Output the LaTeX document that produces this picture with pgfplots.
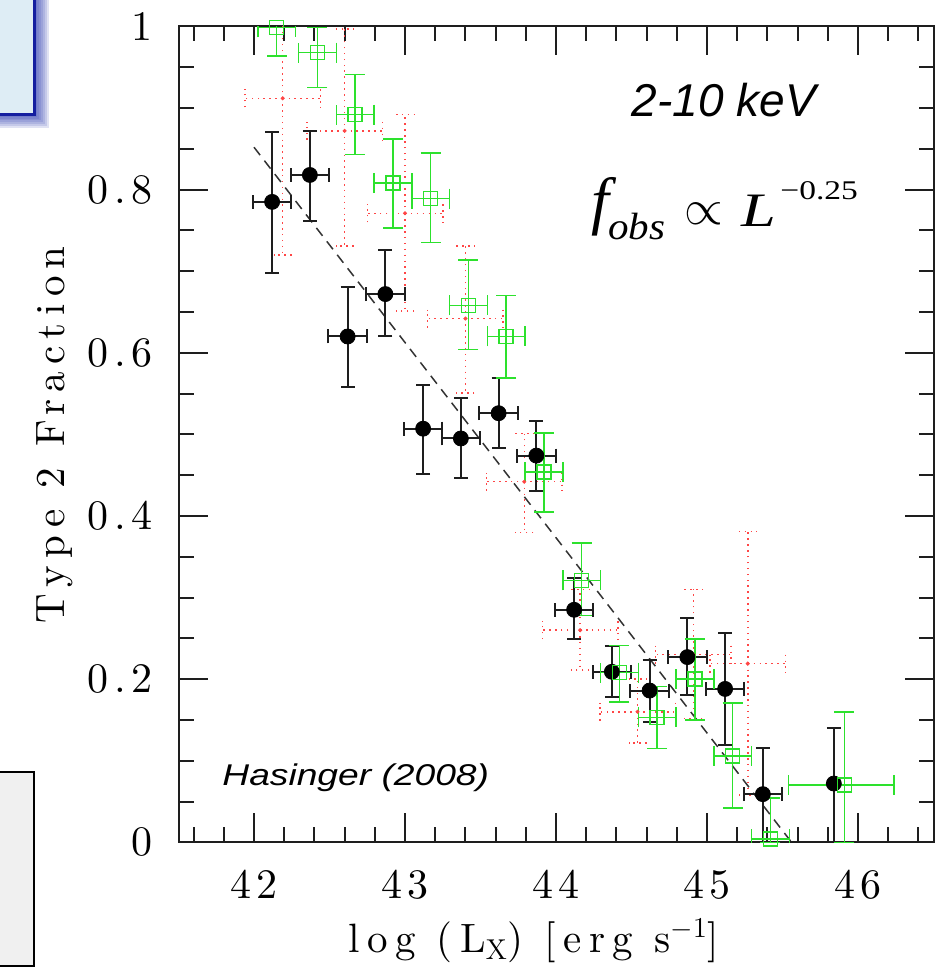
\documentclass[border=0pt]{standalone}
\usepackage{fontspec}
\usepackage{pgfplots}
\usepackage{pgfplotstable}
\pgfplotsset{compat=1.18}

% fonts: spaced-out roman for the plot text, Arial/Times metrics for annotations
\newfontfamily\plotfont{lmroman10-regular}[Extension=.otf, LetterSpace=12.8]
\newfontfamily\labelfont{lmroman10-regular}[Extension=.otf, LetterSpace=18]
\newfontfamily\arialfont{Liberation Sans}
\newfontfamily\tnrfont{Liberation Serif}

\definecolor{plgreen}{RGB}{45,225,45}
\definecolor{plred}{RGB}{255,70,70}
\definecolor{boxblue}{RGB}{222,237,245}
\definecolor{boxborder}{RGB}{20,30,160}
\definecolor{shadowblue}{RGB}{45,60,175}
\definecolor{framegray}{RGB}{30,30,30}

% type 2 fraction, full sample (filled circles)
\pgfplotstableread{
x      y      ex     eyp    eym
42.12  0.785  0.127  0.086  0.087
42.37  0.818  0.127  0.054  0.056
42.62  0.620  0.127  0.061  0.062
42.87  0.672  0.127  0.054  0.052
43.12  0.507  0.127  0.054  0.055
43.37  0.495  0.127  0.049  0.048
43.62  0.526  0.127  0.043  0.043
43.87  0.474  0.127  0.043  0.043
44.12  0.285  0.127  0.039  0.036
44.37  0.209  0.127  0.032  0.031
44.62  0.186  0.127  0.038  0.038
44.87  0.227  0.127  0.048  0.047
45.12  0.188  0.127  0.068  0.069
45.37  0.059  0.127  0.056  0.059
45.84  0.072  0.000  0.068  0.072
}\blackdata

% open squares
\pgfplotstableread{
x      y      exm    exp    eyp    eym
42.15  0.999  0.125  0.125  0.040  0.035
42.42  0.968  0.125  0.125  0.031  0.043
42.67  0.892  0.125  0.125  0.049  0.049
42.92  0.808  0.125  0.125  0.054  0.055
43.17  0.789  0.125  0.125  0.056  0.054
43.42  0.658  0.125  0.125  0.056  0.054
43.67  0.620  0.125  0.125  0.050  0.051
43.92  0.454  0.125  0.125  0.048  0.049
44.17  0.321  0.125  0.125  0.046  0.043
44.42  0.208  0.125  0.125  0.033  0.036
44.67  0.153  0.125  0.125  0.038  0.038
44.92  0.200  0.125  0.125  0.049  0.050
45.17  0.106  0.125  0.125  0.065  0.064
45.42  0.004  0.125  0.125  0.050  0.004
45.91  0.070  0.370  0.330  0.090  0.070
}\greendata

% dotted crosses
\pgfplotstableread{
x      y      ex     eyp    eym
42.19  0.912  0.25   0.100  0.192
42.60  0.872  0.25   0.125  0.141
43.00  0.771  0.25   0.121  0.120
43.40  0.642  0.25   0.089  0.091
43.79  0.442  0.25   0.059  0.062
44.16  0.260  0.25   0.050  0.049
44.54  0.160  0.25   0.040  0.038
44.91  0.230  0.25   0.080  0.078
45.27  0.219  0.25   0.162  0.161
}\reddata

\begin{document}
\begin{tikzpicture}
\useasboundingbox (0,0) rectangle (467.5pt,484pt);

% slide elements at the left edge (coordinates in image pixels)
\begin{scope}[x=0.5pt, y=-0.5pt, shift={(0pt,484pt)}]
  \foreach \k in {1,...,7}
    \fill[shadowblue, opacity=0.15] (-30,-30) rectangle ({35+2*\k},{115+1.8*\k});
  \filldraw[fill=boxblue, draw=boxborder, line width=1.5pt] (-30,-30) rectangle (34.5,114.5);
  \filldraw[fill=black!6, draw=black, line width=1pt] (-30,771.7) rectangle (34.3,966.3);
\end{scope}

\begin{axis}[
  at={(89.25pt,62.85pt)}, anchor=south west,
  scale only axis, width=377.5pt, height=407.9pt,
  xmin=41.5, xmax=46.5, ymin=0, ymax=1,
  xtick={42,43,44,45,46},
  xticklabels={42,43,44,45,46},
  ytick={0,0.2,0.4,0.6,0.8,1},
  yticklabels={0,0.2,0.4,0.6,0.8,1},
  minor xtick={41.6,41.8,42.2,42.4,42.6,42.8,43.2,43.4,43.6,43.8,44.2,44.4,44.6,44.8,45.2,45.4,45.6,45.8,46.2,46.4},
  minor ytick={0.05,0.1,0.15,0.25,0.3,0.35,0.45,0.5,0.55,0.65,0.7,0.75,0.85,0.9,0.95},
  tick align=inside,
  major tick length=14.5pt, minor tick length=7.5pt,
  every tick/.style={framegray, line width=1pt},
  axis line style={framegray, line width=1pt},
  /pgf/number format/assume math mode=true,
  tick label style={font=\fontsize{21pt}{25pt}\plotfont},
  xticklabel style={inner sep=0pt, anchor=north, yshift=-13.8pt},
  yticklabel style={inner sep=0pt, anchor=east, xshift=-13pt},
  clip=true,
]

% dotted crosses drawn first, behind the other samples
\addplot[only marks, mark=*, mark size=0.8pt, color=plred,
  error bars/.cd, x dir=both, x explicit, y dir=both, y explicit,
  error bar style={line width=0.75pt, plred, dash pattern=on 0.75pt off 2.2pt},
  error mark options={rotate=90, line width=0.75pt, mark size=4.5pt, plred, dash pattern=on 0.75pt off 2.2pt}]
  table[x=x, y=y, x error=ex, y error plus=eyp, y error minus=eym] {\reddata};

% power-law fit
\addplot[no marks, line width=0.75pt, color=black!80, dash pattern=on 5pt off 3.5pt]
  coordinates {(42.0,0.852) (45.56,0)};

\addplot[only marks, mark=*, mark size=3.75pt, color=black,
  error bars/.cd, x dir=both, x explicit, y dir=both, y explicit,
  error bar style={line width=1pt, framegray},
  error mark options={rotate=90, line width=1pt, mark size=3.5pt, framegray}]
  table[x=x, y=y, x error=ex, y error plus=eyp, y error minus=eym] {\blackdata};

\addplot[only marks, mark=square, mark size=3.5pt, color=plgreen,
  mark options={line width=0.75pt},
  error bars/.cd, x dir=both, x explicit, y dir=both, y explicit,
  error bar style={line width=0.75pt, plgreen},
  error mark options={rotate=90, line width=0.75pt, mark size=5pt, plgreen}]
  table[x=x, y=y, x error plus=exp, x error minus=exm, y error plus=eyp, y error minus=eym] {\greendata};

\end{axis}

% labels and annotations (coordinates in image pixels)
\begin{scope}[x=0.5pt, y=-0.5pt, shift={(0pt,484pt)}]
  \node[rotate=90, inner sep=0pt, font=\fontsize{20.5pt}{24pt}\labelfont] at (55,435) {Type 2 Fraction};
  \node[anchor=base, inner sep=0pt, font=\fontsize{20.5pt}{24pt}\labelfont] at (534,953)
    {log (L$_{\mathrm{X}}$) [erg s$^{-1}$]};
  \node[anchor=base, inner sep=0pt, font=\fontsize{23pt}{27pt}\arialfont\itshape] at (724,116.7) {2-10 keV};
  \node[anchor=base west, inner sep=0pt, font=\fontsize{15pt}{18pt}\arialfont\itshape] at (222,785.7)
    {\scalebox{1.24}[1]{Hasinger (2008)}};
  % f_obs ∝ L^{-0.25}
  \node[anchor=base west, inner sep=0pt, font=\fontsize{32pt}{36pt}\tnrfont\itshape] at (591,223) {f};
  \node[anchor=base west, inner sep=0pt, font=\fontsize{19pt}{22pt}\tnrfont\itshape] at (608,239.3) {\scalebox{1.08}[1]{obs}};
  \node[inner sep=0pt, font=\fontsize{23.5pt}{28pt}\selectfont] at (703.5,213.5) {$\propto$};
  \node[anchor=base west, inner sep=0pt, font=\fontsize{24pt}{28pt}\tnrfont\itshape] at (741,226.7) {\scalebox{1.3}[1]{L}};
  \node[anchor=base west, inner sep=0pt, font=\fontsize{13.5pt}{16pt}\tnrfont] at (780,200) {\scalebox{1.24}[1]{−0.25}};
\end{scope}
\end{tikzpicture}
\end{document}
